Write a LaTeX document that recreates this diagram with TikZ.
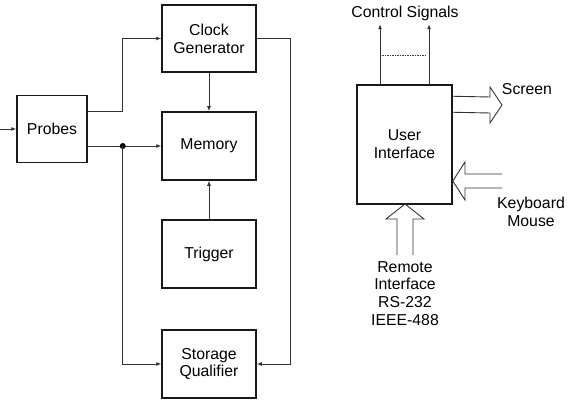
\documentclass[tikz,border=0pt]{standalone}
\usepackage{fontspec}
\setmainfont{Liberation Sans}
\usetikzlibrary{arrows.meta,calc}
\begin{document}
\begin{tikzpicture}[x=1pt,y=-1pt,
  every node/.style={font=\fontsize{15.8pt}{17.8pt}\selectfont, inner sep=0pt},
  blk/.style={draw=black!90, line width=1.5pt, rectangle, align=center},
  conn/.style={draw=black!80, line width=0.9pt},
  arr/.style={conn, -{Latex[length=5pt,width=4pt]}},
  hollow/.style={draw=black!80, line width=0.9pt, line join=miter},
  lbl/.style={align=center}]
\useasboundingbox (0,0) rectangle (571,404);
% left blocks
\node[blk, minimum width=94pt, minimum height=67pt] (clock) at (209,38.5) {Clock\\Generator};
\node[blk, minimum width=70pt, minimum height=67pt] (probes) at (52,129) {Probes};
\node[blk, minimum width=94pt, minimum height=68pt] (memory) at (209,146) {Memory};
\node[blk, minimum width=94pt, minimum height=68pt] (trigger) at (209,254) {Trigger};
\node[blk, minimum width=94pt, minimum height=68pt] (storage) at (209,364) {Storage\\Qualifier};
\coordinate (in) at (0,129);
\draw[arr] (in) -- (probes.west);
\draw[arr] ([yshift=18pt]probes.east) -- ++(35,0) |- (clock.west);
\path ([yshift=-17pt]probes.east) ++(35,0) coordinate (dot);
\draw[arr] ([yshift=-17pt]probes.east) -- (memory.west);
\fill[black] (dot) circle (3pt);
\draw[arr] (dot) |- (storage.west);
\draw[arr] (clock.south) -- (memory.north);
\draw[arr] (trigger.north) -- (memory.south);
\draw[arr] (clock.east) -- ++(34,0) |- (storage.east);
% right side
\node[blk, minimum width=95pt, minimum height=119pt] (ui) at (404.5,144.5) {User\\Interface};
\coordinate (c1) at ([xshift=-24.5pt,yshift=60pt]ui.north);
\coordinate (c2) at ([xshift=24.5pt,yshift=60pt]ui.north);
\draw[arr] ([xshift=-24.5pt]ui.north) -- (c1);
\draw[arr] ([xshift=24.5pt]ui.north) -- (c2);
\draw[draw=black!75, line width=0.7pt, dash pattern=on 1.5pt off 1pt]
  ([xshift=-22.5pt,yshift=29pt]ui.north) -- ([xshift=22.5pt,yshift=29pt]ui.north);
\node[lbl] (ctrl) at (405,13) {Control Signals};
% Screen arrow
\draw[hollow] ($(ui.north east)+(0,12)$) -- (490,97) -- (490,87) -- (502,105) -- (490,123) -- (490,113) -- ($(ui.north east)+(0,28)$);
\node[lbl] (screen) at (527,89) {Screen};
% Keyboard arrow
\coordinate (kbtip) at (ui.east |- 0,181);
\draw[hollow] (502,174) -- (465,174) -- (465,162) -- (kbtip) -- (465,200) -- (465,188) -- (502,188);
\node[lbl] (kb) at (531,212) {Keyboard\\Mouse};
% Remote arrow
\coordinate (rtip) at (405,204);
\draw[hollow] (397,255) -- (397,219) -- (386,219) -- (rtip) -- (424,219) -- (413,219) -- (413,255);
\node[lbl] (remote) at (405,293.5) {Remote\\Interface\\RS-232\\IEEE-488};
\end{tikzpicture}
\end{document}
